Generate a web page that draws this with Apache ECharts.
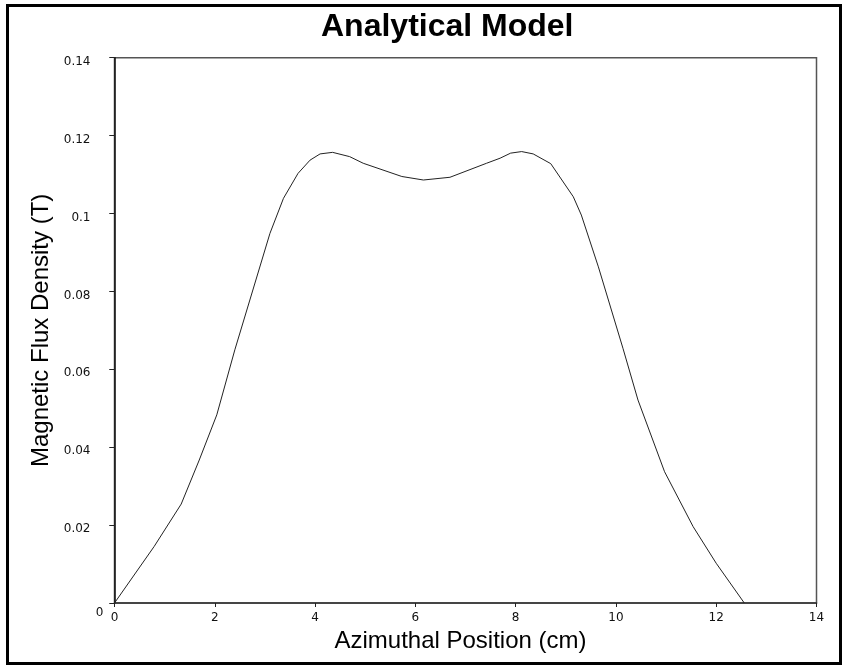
<!DOCTYPE html>
<html>
<head>
<meta charset="utf-8">
<script src="https://cdn.jsdelivr.net/npm/echarts@6/dist/echarts.min.js"></script>
<style>
  html, body { margin: 0; padding: 0; background: #fff; }
  #main { width: 846px; height: 666px; }
</style>
</head>
<body>
<div id="main"></div>
<script>
// azimuthal position (cm) and flux density (T)
var positions = [0, 0.79, 1.33, 1.69, 2.04, 2.40, 3.10, 3.37, 3.66, 3.90, 4.10, 4.35, 4.69, 4.96,
  5.73, 6.16, 6.69, 7.42, 7.69, 7.90, 8.12, 8.35, 8.70, 9.15, 9.31, 9.65, 10.14, 10.44, 10.97,
  11.54, 12.0, 12.56];
var fluxDensity = [0, 0.0145, 0.0254, 0.0367, 0.0483, 0.065, 0.0949, 0.1039, 0.1103, 0.1137, 0.1153,
  0.1157, 0.1146, 0.1129, 0.1095, 0.1086, 0.1093, 0.1129, 0.1142, 0.1155, 0.1159, 0.1153, 0.1128,
  0.1043, 0.0996, 0.0863, 0.0654, 0.0521, 0.0337, 0.0196, 0.0102, 0];
var xTicks = [0, 2, 4, 6, 8, 10, 12, 14];
var yTicks = [0, 0.02, 0.04, 0.06, 0.08, 0.1, 0.12, 0.14];

var chart = echarts.init(document.getElementById("main"));

// 把两个数组拼成 [x, y]
var lineData = [];
for (var i = 0; i < positions.length; i++) {
  lineData.push([positions[i], fluxDensity[i]]);
}

var tickFont = { fontFamily: "DejaVu Sans", fontSize: 12, color: "#111" };

chart.setOption({
  animation: false,
  backgroundColor: "#fff",
  title: {
    text: "Analytical Model",
    left: 316,
    top: 6,
    textStyle: {
      fontFamily: "Liberation Sans",
      fontWeight: "bold",
      fontSize: 32,
      color: "#000"
    }
  },
  graphic: [
    {
      type: "rect",
      shape: { x: 7.5, y: 5.5, width: 833, height: 658 },
      style: { fill: null, stroke: "#000", lineWidth: 3 }
    }
  ],
  grid: {
    left: 114.5,
    right: 29.5,
    top: 57.7,
    bottom: 63,
    show: true,
    borderColor: "#555",
    borderWidth: 1.5
  },
  xAxis: [
    {
      type: "value",
      min: xTicks[0],
      max: xTicks[xTicks.length - 1],
      interval: 2,
      name: "Azimuthal Position (cm)",
      nameLocation: "middle",
      nameGap: 16,
      nameTextStyle: { fontFamily: "Liberation Sans", fontSize: 24, color: "#000", padding: [0, 10, 0, 0] },
      axisLine: { show: true, onZero: false, lineStyle: { color: "#333", width: 1.5 } },
      axisTick: { show: true, length: 4, lineStyle: { color: "#222" } },
      axisLabel: Object.assign({ margin: 9 }, tickFont),
      splitLine: { show: false }
    },
    {
      type: "value",
      min: xTicks[0],
      max: xTicks[xTicks.length - 1],
      interval: 2,
      axisLine: { show: false },
      axisTick: { show: true, inside: true, length: 4, lineStyle: { color: "#222" } },
      axisLabel: { show: false },
      splitLine: { show: false }
    }
  ],
  yAxis: [
    {
      type: "value",
      min: yTicks[0],
      max: yTicks[yTicks.length - 1],
      interval: 0.02,
      name: "Magnetic Flux Density (T)",
      nameLocation: "middle",
      nameGap: 54,
      nameTextStyle: { fontFamily: "Liberation Sans", fontSize: 24, color: "#000" },
      axisLine: { show: true, onZero: false, lineStyle: { color: "#111", width: 1.5 } },
      axisTick: { show: true, length: 5, lineStyle: { color: "#222" } },
      axisLabel: Object.assign({
        margin: 11,
        formatter: function (v) {
          var s = String(+v.toFixed(2));
          return v === 0 ? "{z|" + s + "}" : "{n|" + s + "}";
        },
        rich: {
          n: Object.assign({ padding: [8, 13, 0, 0] }, tickFont),
          z: Object.assign({ padding: [20, 0, 0, 0] }, tickFont)
        }
      }, tickFont),
      splitLine: { show: false }
    },
    {
      type: "value",
      min: yTicks[0],
      max: yTicks[yTicks.length - 1],
      interval: 0.02,
      axisLine: { show: false },
      axisTick: { show: true, inside: true, length: 5, lineStyle: { color: "#222" } },
      axisLabel: { show: false },
      splitLine: { show: false }
    }
  ],
  series: [
    {
      type: "line",
      data: lineData,
      xAxisIndex: 0,
      yAxisIndex: 0,
      showSymbol: false,
      smooth: false,
      lineStyle: { color: "#222", width: 1 }
    }
  ]
});
</script>
</body>
</html>
